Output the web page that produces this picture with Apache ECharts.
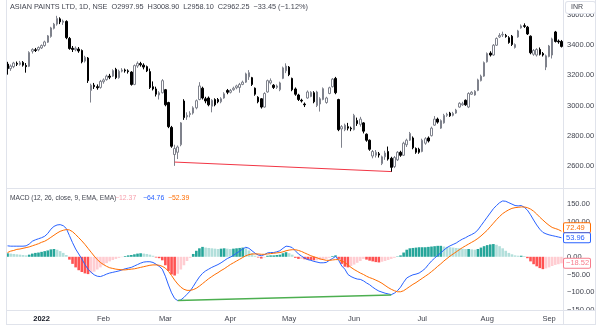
<!DOCTYPE html>
<html>
<head>
<meta charset="utf-8">
<script src="https://cdn.jsdelivr.net/npm/echarts@6/dist/echarts.min.js"></script>
<style>
  html, body { margin: 0; padding: 0; background: #ffffff; }
  #chart { width: 602px; height: 330px; }
</style>
</head>
<body>
<div id="chart"></div>
<script>
// Trading sessions (NSE), grouped by month
const monthSessions = [
  ['2021-12', [17,20,21,22,23,24,27,28,29,30,31]],
  ['2022-01', [3,4,5,6,7,10,11,12,13,14,17,18,19,20,21,24,25,27,28,31]],
  ['2022-02', [1,2,3,4,7,8,9,10,11,14,15,16,17,18,21,22,23,24,25,28]],
  ['2022-03', [2,3,4,7,8,9,10,11,14,15,16,17,21,22,23,24,25,28,29,30,31]],
  ['2022-04', [1,4,5,6,7,8,11,12,13,18,19,20,21,22,25,26,27,28,29]],
  ['2022-05', [2,4,5,6,9,10,11,12,13,16,17,18,19,20,23,24,25,26,27,30,31]],
  ['2022-06', [1,2,3,6,7,8,9,10,13,14,15,16,17,20,21,22,23,24,27,28,29,30]],
  ['2022-07', [1,4,5,6,7,8,11,12,13,14,15,18,19,20,21,22,25,26,27,28,29]],
  ['2022-08', [1,2,3,4,5,8,10,11,12,16,17,18,19,22,23,24,25,26,29,30]],
  ['2022-09', [1,2,5,6,7]]
];

// Daily OHLC (INR)
const opens = [
  3275,3245,3258,3280,3272,3286,3266,3260,3360,3370,
  3370,3382,3398,3420,3458,3512,3540,3575,3552,3558,
  3445,3380,3370,3375,3365,3295,3315,3100,3135,3125,
  3120,3158,3172,3195,3195,3240,3185,3228,3236,3230,
  3222,3140,3262,3278,3268,3258,3225,3125,3110,3070,
  3085,3105,3020,2855,2675,2690,2740,3030,2925,2940,
  2950,2985,3040,3115,3045,3050,2995,3040,3040,3025,
  3050,3100,3088,3105,3118,3120,3140,3155,3190,3185,
  3115,3055,3045,2990,3090,3150,3135,3120,3105,3180,
  3230,3255,3180,3110,3070,3035,3010,3050,3060,3085,
  3000,3010,3040,3020,3080,3125,3180,3040,2845,2840,
  2860,2850,2840,2900,2875,2885,2810,2770,2665,2670,
  2680,2615,2660,2695,2650,2595,2640,2690,2670,2740,
  2770,2785,2715,2710,2695,2750,2785,2800,2870,2910,
  2850,2885,2935,2950,2935,2950,2990,3005,3035,2990,
  3075,3070,3100,3165,3195,3290,3348,3335,3400,3455,
  3468,3465,3450,3460,3385,3455,3515,3530,3520,3460,
  3340,3335,3372,3345,3255,3325,3335,3488,3428,3425
];
const highs = [
  3290,3272,3290,3292,3296,3295,3282,3360,3380,3382,
  3392,3405,3430,3468,3522,3548,3595,3585,3570,3565,
  3455,3395,3392,3388,3372,3330,3322,3145,3150,3140,
  3170,3180,3205,3210,3240,3250,3238,3248,3245,3240,
  3228,3272,3292,3290,3280,3265,3245,3160,3125,3095,
  3175,3110,3025,2865,2740,2735,2890,3042,2955,2962,
  2995,3040,3155,3125,3058,3060,3042,3048,3050,3055,
  3088,3110,3110,3125,3138,3150,3165,3218,3235,3190,
  3120,3062,3050,3088,3172,3180,3142,3140,3158,3258,
  3280,3262,3185,3120,3078,3045,3020,3100,3095,3095,
  3098,3055,3120,3058,3125,3182,3190,3045,2870,2880,
  2885,2860,2945,2920,2925,2890,2815,2775,2705,2705,
  2692,2668,2700,2728,2660,2665,2698,2700,2760,2780,
  2825,2795,2722,2720,2780,2790,2795,2860,2930,2920,
  2908,2945,2952,2958,2958,2978,3022,3025,3040,3088,
  3095,3102,3178,3205,3292,3352,3360,3408,3452,3480,
  3490,3475,3460,3468,3412,3502,3538,3545,3528,3465,
  3375,3380,3385,3355,3338,3402,3450,3495,3438,3435
];
const lows = [
  3205,3230,3248,3262,3265,3258,3218,3255,3345,3355,
  3360,3375,3390,3415,3450,3505,3530,3540,3535,3440,
  3370,3355,3360,3350,3280,3285,3150,3020,3110,3105,
  3112,3145,3165,3175,3190,3175,3178,3220,3218,3212,
  3132,3135,3250,3258,3240,3222,3110,3100,3060,3040,
  3080,2995,2850,2720,2600,2645,2730,2905,2905,2922,
  2940,2975,3035,3040,3015,2995,2955,2995,3015,3015,
  3045,3075,3080,3098,3108,3085,3135,3150,3170,3130,
  3065,3015,2980,2985,3085,3140,3110,3110,3095,3175,
  3215,3195,3095,3065,3030,3020,2990,3045,3055,3015,
  2990,2960,3035,3012,3075,3120,3075,2830,2720,2830,
  2835,2830,2835,2865,2860,2815,2760,2700,2650,2655,
  2655,2605,2640,2635,2560,2585,2632,2660,2665,2725,
  2765,2710,2680,2680,2690,2740,2755,2795,2865,2880,
  2845,2880,2925,2925,2928,2945,2985,2998,2998,2983,
  3070,3065,3095,3160,3190,3285,3325,3330,3395,3448,
  3455,3450,3410,3395,3378,3450,3510,3515,3468,3340,
  3330,3325,3332,3325,3235,3320,3312,3418,3410,3385
];
const closes = [
  3245,3262,3282,3274,3284,3268,3258,3352,3372,3365,
  3385,3398,3422,3462,3515,3540,3578,3555,3560,3450,
  3378,3372,3380,3362,3290,3320,3165,3135,3125,3118,
  3160,3170,3195,3188,3232,3185,3228,3235,3230,3225,
  3140,3265,3280,3270,3255,3230,3120,3110,3075,3085,
  3165,3005,2860,2730,2715,2725,2885,2920,2935,2948,
  2985,3032,3130,3050,3030,3005,3035,3005,3025,3045,
  3078,3088,3100,3115,3130,3140,3155,3210,3218,3140,
  3075,3025,2990,3080,3165,3165,3120,3130,3150,3250,
  3262,3205,3105,3075,3040,3030,3005,3090,3088,3025,
  3090,3045,3112,3050,3118,3175,3085,2840,2860,2870,
  2850,2845,2935,2880,2910,2830,2770,2710,2695,2690,
  2672,2660,2685,2645,2590,2655,2690,2670,2750,2770,
  2815,2720,2690,2690,2770,2780,2765,2850,2910,2890,
  2900,2935,2942,2932,2948,2970,3015,3012,3005,3080,
  3088,3095,3170,3195,3285,3345,3335,3400,3445,3465,
  3472,3458,3418,3405,3405,3495,3528,3525,3475,3350,
  3365,3372,3340,3335,3330,3395,3442,3425,3422,3392
];

// MACD (12, 26, close, 9)
const macdLine = [
  31,30,30,30,30,30,31,36,44,48,
  51,54,58,66,78,86,90,91,88,80,
  60,40,22,8,-6,-22,-35,-44,-51,-55,
  -56,-53,-49,-46,-44,-42,-40,-37,-34,-32,
  -30,-26,-22,-18,-15,-14,-14,-16,-21,-27,
  -35,-55,-80,-102,-118,-124,-122,-115,-106,-97,
  -84,-70,-57,-47,-40,-35,-30,-26,-22,-17,
  -11,-5,-1,4,10,16,22,27,24,17,
  10,5,3,6,11,12,12,14,17,24,
  30,29,26,17,8,2,-4,-8,-10,-13,
  -15,-17,-17,-16,-10,-5,1,-10,-26,-35,
  -50,-56,-60,-63,-64,-68,-74,-79,-86,-92,
  -97,-100,-103,-105,-107,-103,-96,-86,-72,-60,
  -55,-51,-49,-46,-40,-33,-22,-12,-4,4,
  11,19,26,31,35,39,45,50,54,59,
  63,68,76,88,100,112,124,136,145,153,
  158,157,153,149,145,144,145,140,132,119,
  104,90,78,69,65,62,60,58,56,53.96
];
const signalLine = [
  12,16,18,21,22,24,26,28,31,34,
  37,41,44,49,55,61,67,72,75,77,
  76,71,63,54,45,35,24,13,2,-8,
  -16,-22,-27,-31,-33,-35,-36,-37,-37,-36,
  -35,-34,-32,-30,-28,-26,-24,-23,-23,-24,
  -27,-32,-41,-53,-66,-77,-86,-92,-95,-95,
  -93,-89,-83,-76,-69,-62,-56,-50,-45,-39,
  -34,-28,-22,-17,-12,-7,-2,3,6,8,
  8,8,7,7,8,9,10,11,12,14,
  17,19,20,20,18,15,11,7,3,0,
  -3,-6,-8,-10,-10,-9,-8,-8,-12,-16,
  -23,-30,-36,-41,-46,-50,-55,-59,-62,-66,
  -70,-75,-81,-87,-92,-96,-99,-99,-96,-90,
  -84,-78,-73,-67,-61,-55,-49,-42,-35,-27,
  -20,-12,-5,2,8,14,20,26,31,36,
  41,46,52,59,67,75,85,95,105,114,
  122,128,133,137,139,140,141,141,139,135,
  129,121,112,104,96,89,83,80,77,72.49
];
const histogram = [
  10,9,8,7,6,5,4,6,9,11,
  12,14,16,18,21,22,20,16,11,5,
  -8,-20,-30,-38,-43,-47,-49,-46,-42,-36,
  -30,-24,-18,-13,-9,-6,-3,-1,2,4,
  5,7,9,10,9,8,6,3,-2,-4,
  -10,-24,-40,-50,-53,-48,-36,-24,-12,-3,
  8,17,24,28,26,25,24,23,22,23,
  24,23,22,23,24,25,26,24,18,10,
  3,-2,-5,-2,3,4,4,5,6,10,
  13,10,6,-3,-6,-6,-7,-8,-9,-10,
  -10,-9,-8,-6,-3,2,4,-6,-20,-28,
  -30,-26,-22,-17,-12,-6,-8,-11,-13,-15,
  -16,-14,-12,-9,-6,-3,1,4,12,20,
  24,25,26,27,27,27,28,29,30,31,
  31,29,28,27,26,25,24,23,22,22,
  21,20,22,26,30,33,35,36,34,30,
  24,17,11,7,4,3,3,2,-4,-13,
  -21,-27,-32,-35,-33,-30,-26,-23,-21,-18.52
];

// Divergence trend lines: [session index, value]
const priceDivergence = [[54, 2625], [124, 2562]];
const macdDivergence = [[55, -124], [124, -108]];

// Header texts
const headerText = 'ASIAN PAINTS LTD, 1D, NSE  O2997.95  H3008.90  L2958.10  C2962.25  \u221233.45 (\u22121.12%)';
const macdTitle = 'MACD (12, 26, close, 9, EMA, EMA)';
const macdLegendValues = ['\u221212.37', '\u221264.76', '\u221252.39'];
const monthNames = ['Jan','Feb','Mar','Apr','May','Jun','Jul','Aug','Sep','Oct','Nov','Dec'];

const sessions = [];
monthSessions.forEach(([ym, days]) => days.forEach(d => sessions.push(ym + '-' + String(d).padStart(2, '0'))));

const candles = opens.map((o, i) => [o, closes[i], lows[i], highs[i]]);

const FONT = '"Liberation Sans", Arial, sans-serif';
const TEXT = '#434651';
const FRAME = '#e0e3eb';
const BLUE = '#2962ff';
const ORANGE = '#ff6d00';
const PINK = '#f7a1ad';

function histColor(i) {
  const v = histogram[i];
  const prev = i > 0 ? histogram[i - 1] : v;
  if (v >= 0) return v >= prev ? '#26a69a' : '#b2dfdb';
  return v < prev ? '#ff5252' : '#ffcdd2';
}

function fmtSigned(v) {
  return (v < 0 ? '\u2212' : '') + Math.abs(v).toFixed(2);
}

const chart = echarts.init(document.getElementById('chart'), null, { renderer: 'canvas' });

const option = {
  animation: false,
  backgroundColor: '#ffffff',
  grid: [
    { left: 6, right: 39, top: 0, height: 196 },
    { left: 6, right: 39, top: 186.1, height: 123.7 }
  ],
  xAxis: [
    { type: 'category', gridIndex: 0, data: sessions, boundaryGap: true, show: false },
    {
      type: 'category', gridIndex: 1, data: sessions, boundaryGap: true,
      axisLine: { show: false }, axisTick: { show: false }, splitLine: { show: false },
      axisLabel: {
        margin: 5,
        fontSize: 7.5, fontFamily: FONT, color: TEXT,
        interval: (idx) => idx > 0 && sessions[idx].slice(0, 7) !== sessions[idx - 1].slice(0, 7),
        formatter: (val) => {
          const m = +val.slice(5, 7);
          return m === 1 ? '{y|' + val.slice(0, 4) + '}' : monthNames[m - 1];
        },
        rich: { y: { fontSize: 7.5, fontFamily: FONT, fontWeight: 'bold', color: '#131722' } }
      }
    }
  ],
  yAxis: [
    {
      type: 'value', gridIndex: 0, position: 'right', min: 2400, max: 3700, interval: 200,
      axisLine: { show: false }, axisTick: { show: false }, splitLine: { show: false },
      axisLabel: {
        margin: 4, fontSize: 7.5, fontFamily: FONT, color: TEXT,
        formatter: (v) => (v <= 2400 || v >= 3700) ? '' : v.toFixed(2)
      }
    },
    {
      type: 'value', gridIndex: 1, position: 'right', min: -150, max: 200, interval: 50,
      axisLine: { show: false }, axisTick: { show: false }, splitLine: { show: false },
      axisLabel: {
        margin: 4, fontSize: 7.5, fontFamily: FONT, color: TEXT,
        formatter: (v) => v >= 200 ? '' : fmtSigned(v)
      }
    }
  ],
  series: [
    {
      name: 'ASIAN PAINTS', type: 'candlestick', xAxisIndex: 0, yAxisIndex: 0,
      data: candles, barWidth: 2,
      itemStyle: { color: '#ffffff', borderColor: '#7f828c', color0: '#000000', borderColor0: '#000000', borderWidth: 1 },
      markLine: {
        silent: true, symbol: ['none', 'none'], animation: false,
        label: { show: false },
        lineStyle: { color: '#f23645', width: 1, type: 'solid' },
        data: [[
          { coord: [sessions[priceDivergence[0][0]], priceDivergence[0][1]] },
          { coord: [sessions[priceDivergence[1][0]], priceDivergence[1][1]] }
        ]]
      }
    },
    {
      name: 'Histogram', type: 'bar', xAxisIndex: 1, yAxisIndex: 1,
      data: histogram, barWidth: 2.6,
      itemStyle: { color: (p) => histColor(p.dataIndex) }
    },
    {
      name: 'MACD', type: 'line', xAxisIndex: 1, yAxisIndex: 1,
      data: macdLine, showSymbol: false, symbol: 'none',
      lineStyle: { color: BLUE, width: 1 }
    },
    {
      name: 'Signal', type: 'line', xAxisIndex: 1, yAxisIndex: 1,
      data: signalLine, showSymbol: false, symbol: 'none',
      lineStyle: { color: ORANGE, width: 1 },
      markLine: {
        silent: true, symbol: ['none', 'none'], animation: false,
        label: { show: false },
        lineStyle: { color: '#4caf50', width: 1.5, type: 'solid' },
        data: [[
          { coord: [sessions[macdDivergence[0][0]], macdDivergence[0][1]] },
          { coord: [sessions[macdDivergence[1][0]], macdDivergence[1][1]] }
        ]]
      }
    }
  ]
};

chart.setOption(option);

// Pane frame, header texts and last-value tags on the price scale
function txt(text, x, y, color, size) {
  return {
    type: 'text', z: 100, silent: true,
    style: { text, x, y, fill: color, fontSize: size || 7.2, fontFamily: FONT, verticalAlign: 'middle' }
  };
}
function hline(y, x1, x2) {
  return { type: 'line', z: 90, silent: true, shape: { x1, y1: y, x2, y2: y }, style: { stroke: FRAME, lineWidth: 1 } };
}
function vline(x, y1, y2) {
  return { type: 'line', z: 90, silent: true, shape: { x1: x, y1, x2: x, y2 }, style: { stroke: FRAME, lineWidth: 1 } };
}
function tag(text, y, color) {
  return {
    type: 'text', z: 110, silent: true,
    style: {
      text, x: 564, y, fill: color, fontSize: 7.5, fontFamily: FONT, verticalAlign: 'middle',
      backgroundColor: '#ffffff', borderColor: color, borderWidth: 1, borderRadius: 1,
      padding: [1, 2, 0, 2], width: 22
    }
  };
}

const macdLast = macdLine[macdLine.length - 1];
const signalLast = signalLine[signalLine.length - 1];
const histLast = histogram[histogram.length - 1];
const yMacd = chart.convertToPixel({ yAxisIndex: 1 }, macdLast);
let ySignal = chart.convertToPixel({ yAxisIndex: 1 }, signalLast);
const yHist = chart.convertToPixel({ yAxisIndex: 1 }, histLast);
if (yMacd - ySignal < 10) ySignal = yMacd - 10;

const graphics = [
  vline(6.5, 0, 325), vline(595.5, 0, 325), vline(563.5, 0, 325),
  hline(188.5, 6, 596), hline(310.5, 6, 596), hline(324.5, 6, 596),
  { type: 'rect', z: 95, silent: true, shape: { x: 564, y: 311, width: 31, height: 13 }, style: { fill: '#ffffff' } },
  txt(headerText, 10, 6.5, TEXT, 7.3),
  txt(macdTitle, 10, 198, TEXT, 6.6),
  txt(macdLegendValues[0], 115, 198, PINK, 6.9),
  txt(macdLegendValues[1], 143, 198, BLUE, 6.9),
  txt(macdLegendValues[2], 168, 198, ORANGE, 6.9),
  {
    type: 'text', z: 110, silent: true,
    style: {
      text: 'INR', x: 566, y: 7.5, fill: TEXT, fontSize: 7, fontFamily: FONT, verticalAlign: 'middle',
      backgroundColor: '#ffffff', borderColor: FRAME, borderWidth: 1, borderRadius: 2,
      padding: [2, 12, 2, 5]
    }
  },
  tag(signalLast.toFixed(2), ySignal, ORANGE),
  tag(macdLast.toFixed(2), yMacd, BLUE),
  tag(fmtSigned(histLast), yHist, '#f77c8c')
];
chart.setOption({ graphic: graphics });
</script>
</body>
</html>
